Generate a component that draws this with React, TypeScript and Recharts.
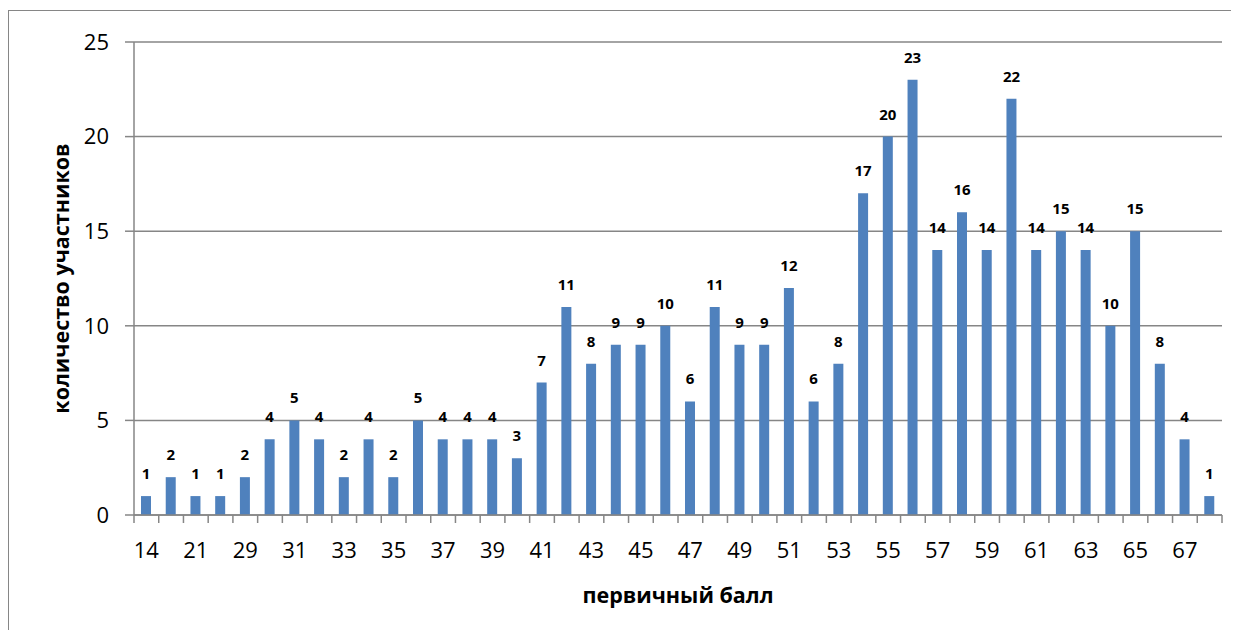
import React from 'react';
import { BarChart, Bar, XAxis, YAxis, CartesianGrid, LabelList } from 'recharts';

const scores = [
    '14', '19', '21', '27', '29', '30', '31', '32', '33', '34', '35', '36', '37', '38', '39', '40',
    '41', '42', '43', '44', '45', '46', '47', '48', '49', '50', '51', '52', '53', '54', '55', '56',
    '57', '58', '59', '60', '61', '62', '63', '64', '65', '66', '67', '68',
];
const counts = [
    1, 2, 1, 1, 2, 4, 5, 4, 2, 4, 2, 5, 4, 4, 4, 3,
    7, 11, 8, 9, 9, 10, 6, 11, 9, 9, 12, 6, 8, 17, 20, 23,
    14, 16, 14, 22, 14, 15, 14, 10, 15, 8, 4, 1,
];
const yTicks = [0, 5, 10, 15, 20, 25];

const data = scores.map((s, i) => ({ score: s, count: counts[i] }));

const W = 1229;
const H = 622;
const M = { top: 31, right: 16, left: 0, bottom: 78 };
const Y_W = 125;
const FONT = '"Open Sans", Calibri, sans-serif';
const GRAY = '#868686';

const band = (W - M.left - M.right - Y_W) / scores.length;

const XTick = (props: any) => {
    const { x, y, payload, index } = props;
    return (
        <g>
            <line x1={x - band / 2} x2={x - band / 2} y1={y} y2={y + 8} stroke={GRAY} strokeWidth={1.5} />
            {index === scores.length - 1 && (
                <line x1={x + band / 2} x2={x + band / 2} y1={y} y2={y + 8} stroke={GRAY} strokeWidth={1.5} />
            )}
            {index % 2 === 0 && (
                <text x={x} y={y + 43} textAnchor="middle" fontSize={22} fill="#000" fontFamily={FONT}>
                    {payload.value}
                </text>
            )}
        </g>
    );
};

const App: React.FC = () => {
    return (
        <div style={{ width: W, height: 640, border: `1px solid ${GRAY}`, marginTop: 2, boxSizing: 'border-box', borderBottom: 'none' }}>
            <BarChart width={W} height={H} data={data} margin={M} barSize={10}>
                <CartesianGrid vertical={false} stroke={GRAY} strokeWidth={1.5} />
                <XAxis
                    dataKey="score"
                    interval={0}
                    tickLine={false}
                    tickSize={0}
                    tickMargin={0}
                    height={40}
                    stroke={GRAY}
                    strokeWidth={1.5}
                    tick={<XTick />}
                    label={{
                        content: (p: any) => {
                            const vb = p.viewBox;
                            return (
                                <text x={vb.x + vb.width / 2} y={vb.y + 88} textAnchor="middle" fontSize={21.5} fontWeight="bold" fontFamily={FONT} fill="#000">
                                    первичный балл
                                </text>
                            );
                        },
                    }}
                />
                <YAxis
                    width={Y_W}
                    domain={[0, 25]}
                    ticks={yTicks}
                    interval={0}
                    tickSize={9}
                    tickMargin={16}
                    stroke={GRAY}
                    strokeWidth={1.5}
                    tick={{ fill: '#000', fontSize: 22, fontFamily: FONT }}
                    label={{
                        content: (p: any) => {
                            const vb = p.viewBox;
                            const cx = 51;
                            const cy = vb.y + vb.height / 2;
                            return (
                                <text x={cx} y={cy} transform={`rotate(-90 ${cx} ${cy})`} textAnchor="middle" dominantBaseline="central" fontSize={21.5} fontWeight="bold" fontFamily={FONT} fill="#000">
                                    количество участников
                                </text>
                            );
                        },
                    }}
                />
                <Bar dataKey="count" fill="#4F81BD" isAnimationActive={false}>
                    <LabelList dataKey="count" position="top" offset={17} fontSize={15} fontWeight="bold" fontFamily={FONT} fill="#000" />
                </Bar>
            </BarChart>
        </div>
    );
};

export default App;
